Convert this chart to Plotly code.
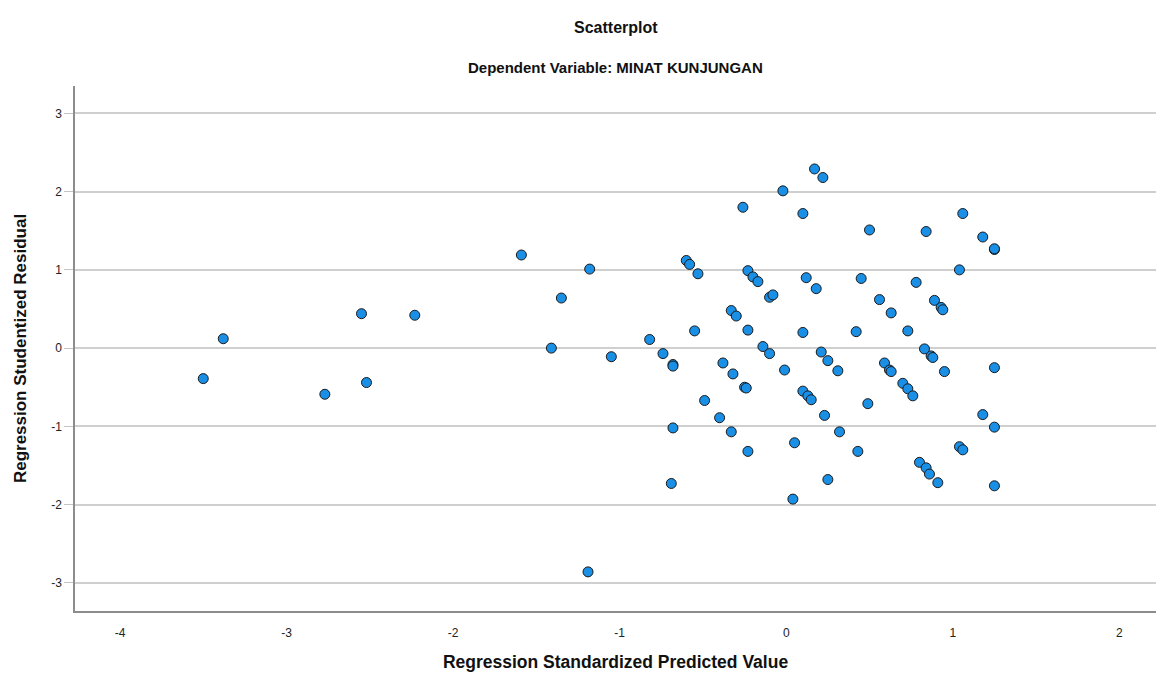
import plotly.graph_objects as go

predicted = [
    -3.50, -3.38, -2.77, -2.55, -2.52, -2.23, -1.59, -1.41, -1.35, -1.18,
    -1.05, -1.19, -0.82, -0.74, -0.68, -0.68, -0.60, -0.58, -0.53, -0.55,
    -0.02, -0.26, 0.10, -0.23, -0.20, -0.17, 0.12, -0.10, -0.08, -0.33,
    -0.30, -0.23, 0.10, -0.14, -0.10, -0.38, -0.32, -0.01, -0.25, -0.24,
    0.10, 0.13, 0.15, -0.49, 0.17, 0.22, 1.06, 0.50, 0.84, 1.18,
    1.25, 1.25, 1.04, 0.45, 0.78, 0.18, 0.56, 0.89, 0.93, 0.94,
    0.63, 0.42, 0.73, 0.21, 0.25, 0.31, 0.83, 0.87, 0.88, 0.59,
    0.62, 0.63, 0.95, 1.25, 0.70, 0.73, 0.76, 0.49, -0.40, -0.68,
    -0.33, -0.23, 0.05, -0.69, 0.04, 0.23, 0.32, 0.43, 0.25, 1.18,
    1.25, 1.04, 1.06, 0.80, 0.84, 0.86, 0.91, 1.25,
]
residual = [
    -0.39, 0.12, -0.59, 0.44, -0.44, 0.42, 1.19, 0.00, 0.64, 1.01,
    -0.11, -2.86, 0.11, -0.07, -0.21, -0.23, 1.12, 1.07, 0.95, 0.22,
    2.01, 1.80, 1.72, 0.99, 0.91, 0.85, 0.90, 0.65, 0.68, 0.48,
    0.41, 0.23, 0.20, 0.02, -0.07, -0.19, -0.33, -0.28, -0.50, -0.51,
    -0.55, -0.61, -0.66, -0.67, 2.29, 2.18, 1.72, 1.51, 1.49, 1.42,
    1.26, 1.27, 1.00, 0.89, 0.84, 0.76, 0.62, 0.61, 0.52, 0.49,
    0.45, 0.21, 0.22, -0.05, -0.16, -0.29, -0.01, -0.10, -0.12, -0.19,
    -0.28, -0.30, -0.30, -0.25, -0.45, -0.52, -0.61, -0.71, -0.89, -1.02,
    -1.07, -1.32, -1.21, -1.73, -1.93, -0.86, -1.07, -1.32, -1.68, -0.85,
    -1.01, -1.26, -1.30, -1.46, -1.53, -1.61, -1.72, -1.76,
]

x_ticks = [-4, -3, -2, -1, 0, 1, 2]
y_ticks = [-3, -2, -1, 0, 1, 2, 3]

title_text = "Scatterplot"
subtitle_text = "Dependent Variable: MINAT KUNJUNGAN"
x_title = "Regression Standardized Predicted Value"
y_title = "Regression Studentized Residual"

FONT = "Liberation Sans, Arial, sans-serif"

fig = go.Figure()
fig.add_trace(go.Scatter(
    x=predicted, y=residual, mode="markers",
    marker=dict(size=10, color="#1a8fe6", line=dict(color="#1a1a1a", width=1)),
    showlegend=False, hoverinfo="x+y",
))

fig.update_layout(
    width=1148, height=664,
    margin=dict(l=67, r=0, t=78, b=61, autoexpand=False),
    paper_bgcolor="white", plot_bgcolor="white",
    font=dict(family=FONT, color="#222222"),
    xaxis=dict(
        range=[-4.27, 2.22], tickvals=x_ticks, ticktext=[str(v) for v in x_ticks],
        showgrid=False, zeroline=False, automargin=False,
        showline=True, linecolor="#8c8c8c", linewidth=2,
        ticks="outside", ticklen=10, tickcolor="rgba(0,0,0,0)",
        tickfont=dict(size=12, color="#222222"),
        title=dict(text="<b>%s</b>" % x_title,
                   font=dict(size=17.5, family=FONT, color="#111111"), standoff=17),
    ),
    yaxis=dict(
        range=[-3.36, 3.35], tickvals=y_ticks, ticktext=[str(v) for v in y_ticks],
        showgrid=True, gridcolor="#cfcfcf", gridwidth=1.5, zeroline=False, automargin=False,
        showline=True, linecolor="#8c8c8c", linewidth=1.5,
        ticks="outside", ticklen=9, tickcolor="#c4c4c4", tickwidth=1,
        tickfont=dict(size=12, color="#222222"),
        title=dict(text="<b>%s</b>" % y_title,
                   font=dict(size=17, family=FONT, color="#111111"), standoff=20),
    ),
    annotations=[
        dict(text="<b>%s</b>" % title_text, xref="paper", yref="paper", x=0.5, y=1,
             yanchor="middle", yshift=59, showarrow=False,
             font=dict(size=16, family=FONT, color="#111111")),
        dict(text="<b>%s</b>" % subtitle_text, xref="paper", yref="paper", x=0.5, y=1,
             yanchor="middle", yshift=19, showarrow=False,
             font=dict(size=15, family=FONT, color="#111111")),
    ],
)

fig.write_html("out.html")
